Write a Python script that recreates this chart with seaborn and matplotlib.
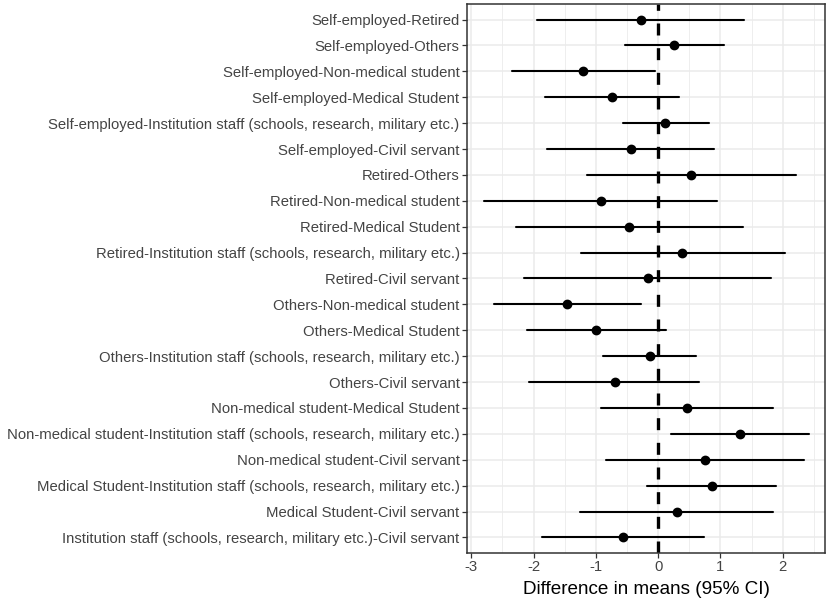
import pandas as pd
import matplotlib
matplotlib.use("Agg")
import matplotlib.pyplot as plt
import seaborn as sns

# pairwise comparisons, top to bottom
comparisons = [
    "Self-employed-Retired",
    "Self-employed-Others",
    "Self-employed-Non-medical student",
    "Self-employed-Medical Student",
    "Self-employed-Institution staff (schools, research, military etc.)",
    "Self-employed-Civil servant",
    "Retired-Others",
    "Retired-Non-medical student",
    "Retired-Medical Student",
    "Retired-Institution staff (schools, research, military etc.)",
    "Retired-Civil servant",
    "Others-Non-medical student",
    "Others-Medical Student",
    "Others-Institution staff (schools, research, military etc.)",
    "Others-Civil servant",
    "Non-medical student-Medical Student",
    "Non-medical student-Institution staff (schools, research, military etc.)",
    "Non-medical student-Civil servant",
    "Medical Student-Institution staff (schools, research, military etc.)",
    "Medical Student-Civil servant",
    "Institution staff (schools, research, military etc.)-Civil servant",
]
estimate = [-0.28, 0.26, -1.20, -0.74, 0.11, -0.44, 0.53, -0.92, -0.47, 0.39, -0.17,
            -1.46, -0.99, -0.13, -0.70, 0.47, 1.32, 0.76, 0.86, 0.30, -0.56]
ci_low = [-1.94, -0.53, -2.35, -1.82, -0.57, -1.79, -1.15, -2.80, -2.29, -1.24, -2.16,
          -2.64, -2.11, -0.88, -2.07, -0.92, 0.20, -0.83, -0.18, -1.25, -1.87]
ci_high = [1.38, 1.05, -0.05, 0.33, 0.81, 0.90, 2.21, 0.95, 1.37, 2.03, 1.82,
           -0.27, 0.12, 0.61, 0.66, 1.85, 2.43, 2.35, 1.90, 1.85, 0.74]

# long table: median of (low, est, high) is the estimate, min-max is the CI
rows = []
for c, lo, est, hi in zip(comparisons, ci_low, estimate, ci_high):
    for v in (lo, est, hi):
        rows.append({"comparison": c, "diff": v})
df = pd.DataFrame(rows)

sns.set_theme(style="whitegrid")
plt.rcParams["font.family"] = ["Liberation Sans", "DejaVu Sans"]
plt.rcParams["axes.unicode_minus"] = False

fig = plt.figure(figsize=(8.29, 6.06), dpi=100)
ax = fig.add_axes([0.5633, 0.0875, 0.4319, 0.9059])

sns.pointplot(data=df, x="diff", y="comparison", order=comparisons,
              estimator="median", errorbar=("pi", 100), linestyle="none",
              color="black", markersize=5, err_kws={"linewidth": 1.5}, ax=ax)

ax.axvline(0, color="black", linewidth=2.4, linestyle=(0, (3.6, 3.8)), zorder=1)

ax.set_xlim(-3.07, 2.68)
ax.set_ylim(20.6, -0.6)
ax.set_xticks([-3, -2, -1, 0, 1, 2])
ax.set_xticks([-2.5, -1.5, -0.5, 0.5, 1.5, 2.5], minor=True)
ax.set_xlabel("Difference in means (95% CI)", fontsize=13.6, color="black", labelpad=5)
ax.set_ylabel("")

ax.set_facecolor("white")
ax.grid(which="major", color="#EBEBEB", linewidth=1.1)
ax.grid(which="minor", axis="x", color="#EBEBEB", linewidth=0.6)
ax.set_axisbelow(True)
for s in ax.spines.values():
    s.set_visible(True)
    s.set_color("#333333")
    s.set_linewidth(1.1)

ax.tick_params(axis="both", which="major", length=3.3, width=0.9, color="#333333",
               labelsize=10.7, labelcolor="#444444", pad=2, left=True, bottom=True)
ax.tick_params(axis="x", which="minor", length=0)

fig.savefig("out.png", dpi=100)
